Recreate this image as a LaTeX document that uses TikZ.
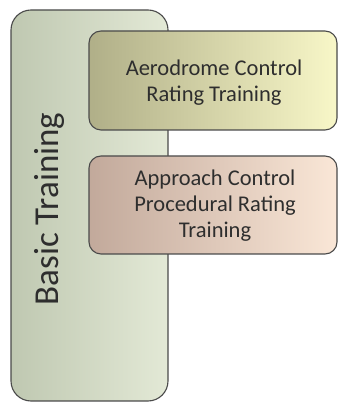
\documentclass[tikz,border=0pt]{standalone}
\usepackage{fontspec}
\setmainfont{Carlito}
\definecolor{basicL}{HTML}{BFC8B1}
\definecolor{basicR}{HTML}{E3E9D6}
\definecolor{aeroL}{HTML}{B0AF88}
\definecolor{aeroR}{HTML}{F8F7C8}
\definecolor{apprL}{HTML}{C2A99B}
\definecolor{apprR}{HTML}{FAE7D7}
\definecolor{edge}{HTML}{4A4A4A}
\definecolor{ink}{HTML}{2E2E2E}
\tikzset{
  panel/.style={draw=edge, line width=1.1pt, rounded corners=#1},
  label/.style={text=ink, align=center, font=\fontsize{22.5}{26}\selectfont},
}
\begin{document}
\begin{tikzpicture}[x=1pt,y=1pt]
\useasboundingbox (0,0) rectangle (339,403);
% basic training column
\draw[panel=20pt, left color=basicL, right color=basicR] (11,2) rectangle (168,393);
\node[text=ink, rotate=90, font=\fontsize{35}{40}\selectfont] (basic) at (49.5,194) {Basic Training};
% rating course boxes
\draw[panel=12pt, left color=aeroL, right color=aeroR] (89,273) rectangle (337,372);
\node[label] (aero) at (214,320.5) {Aerodrome Control\\Rating Training};
\draw[panel=12pt, left color=apprL, right color=apprR] (89,149) rectangle (337,247);
\node[label] (appr) at (215,197.5) {Approach Control\\Procedural Rating\\Training};
\end{tikzpicture}
\end{document}
